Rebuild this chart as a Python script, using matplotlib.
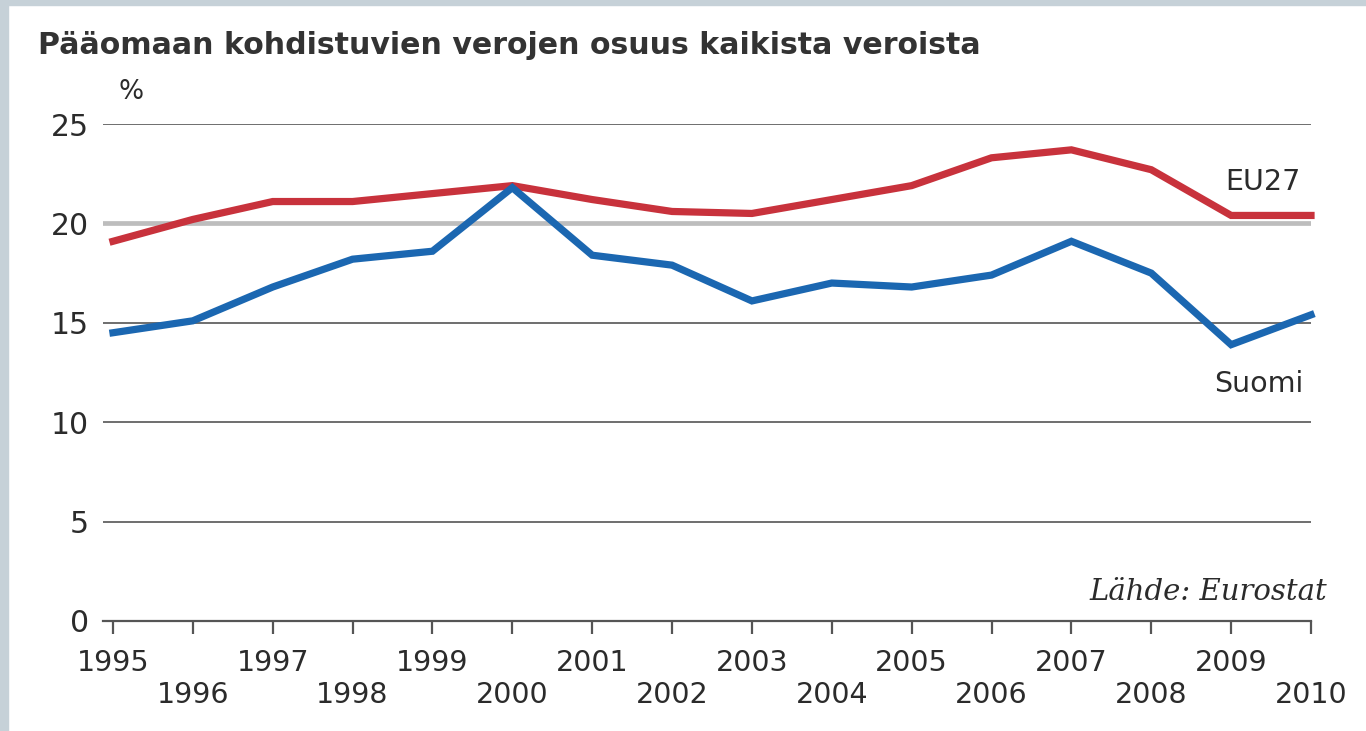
import matplotlib
matplotlib.use('agg')
import matplotlib.pyplot as plt
from matplotlib.patches import Rectangle

years = list(range(1995, 2011))
eu27 = [19.1, 20.2, 21.1, 21.1, 21.5, 21.9, 21.2, 20.6, 20.5, 21.2, 21.9, 23.3, 23.7, 22.7, 20.4, 20.4]
suomi = [14.5, 15.1, 16.8, 18.2, 18.6, 21.8, 18.4, 17.9, 16.1, 17.0, 16.8, 17.4, 19.1, 17.5, 13.9, 15.4]
yticks = [0, 5, 10, 15, 20, 25]

title = "Pääomaan kohdistuvien verojen osuus kaikista veroista"
source = "Lähde: Eurostat"

txt = '#2b2b2b'
red = '#c8323c'
blue = '#1b67b1'

plt.rcParams['font.family'] = ['DejaVu Sans']

fig = plt.figure(figsize=(13.66, 7.31), dpi=100)
fig.patch.set_facecolor('white')

# light frame on the top and left edges
fig.patches.append(Rectangle((0, 0), 8 / 1366, 1, transform=fig.transFigure, color='#c6d1d8', zorder=0))
fig.patches.append(Rectangle((0, 1 - 5 / 731), 1, 5 / 731, transform=fig.transFigure, color='#c6d1d8', zorder=0))

ax = fig.add_axes([103 / 1366, 1 - 621 / 731, 1208 / 1366, 497 / 731])
ax.set_xlim(1994.875, 2010)
ax.set_ylim(0, 25)

for s in ['top', 'right', 'left']:
    ax.spines[s].set_visible(False)
ax.spines['bottom'].set_color('#555555')
ax.spines['bottom'].set_linewidth(1.6)

# horizontal grid
for v in yticks[1:]:
    if v == 20:
        ax.axhline(v, color='#bdbdbd', lw=3.4, zorder=1)
    else:
        ax.axhline(v, color='#555555', lw=1.2, zorder=1)

ax.plot(years, eu27, color=red, lw=5.2, solid_joinstyle='miter', zorder=3, clip_on=False)
ax.plot(years, suomi, color=blue, lw=5.2, solid_joinstyle='miter', zorder=3, clip_on=False)

ax.set_yticks(yticks)
ax.set_yticklabels([str(v) for v in yticks], fontsize=21.5, color=txt)
ax.tick_params(axis='y', length=0, pad=10)

ax.set_xticks(years)
labels = [str(y) if i % 2 == 0 else '\n' + str(y) for i, y in enumerate(years)]
ax.set_xticklabels(labels, fontsize=20.5, color=txt, linespacing=1.15)
ax.tick_params(axis='x', length=9.5, width=1.6, color='#555555', pad=11)

ax.text(1995.07, 26.6, '%', fontsize=19, color=txt, ha='left', va='center')
ax.text(2009.87, 22.1, 'EU27', fontsize=20.5, color=txt, ha='right', va='center')
ax.text(2009.9, 11.9, 'Suomi', fontsize=20.5, color=txt, ha='right', va='center')
ax.text(2010.2, 1.45, source, fontsize=21, color=txt, ha='right', va='center',
        family='DejaVu Serif', style='italic')

fig.text(38 / 1366, 1 - 45 / 731, title, fontsize=21.6, color='#333333', ha='left', va='center',
         weight='bold')

fig.savefig('out.png', dpi=100)
